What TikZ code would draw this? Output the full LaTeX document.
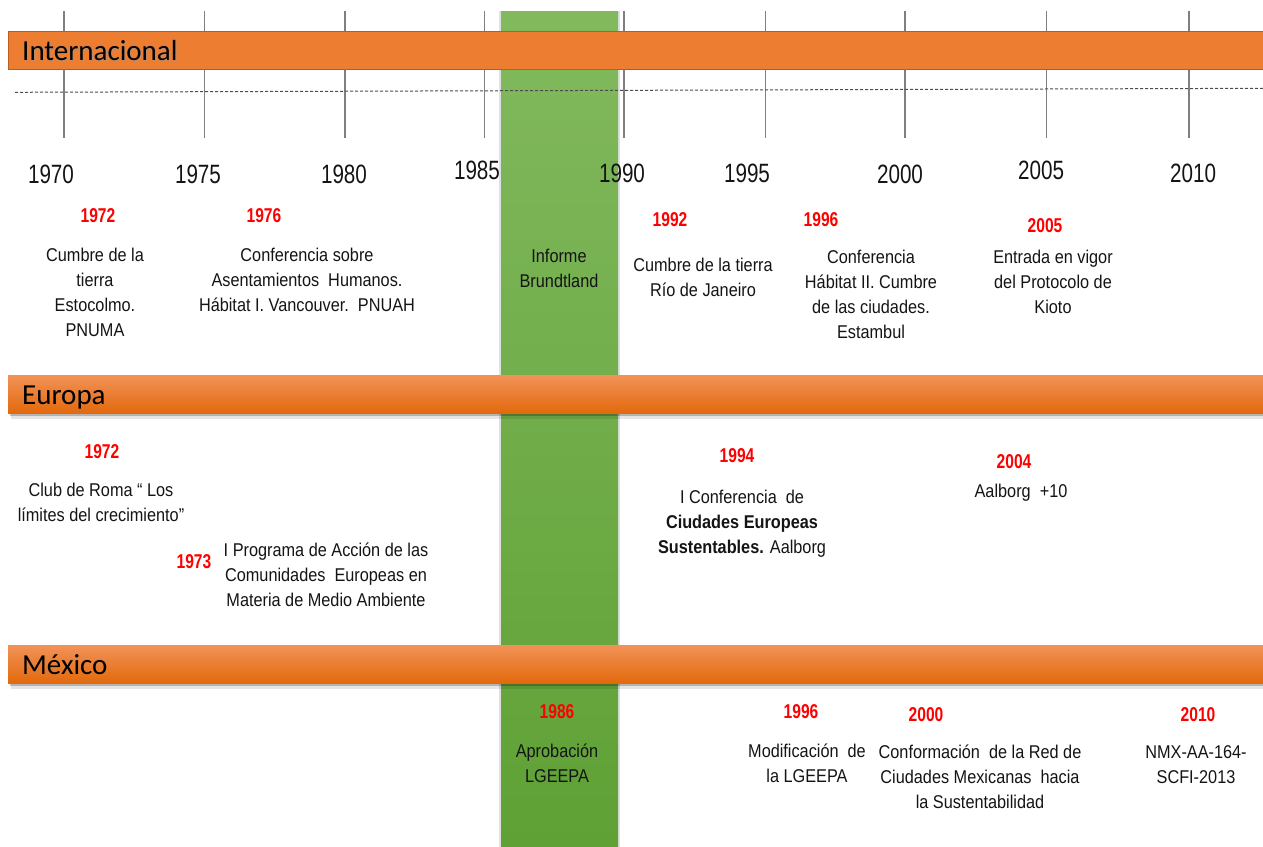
\documentclass[tikz,border=0pt]{standalone}
\usepackage{fontspec}
\setmainfont{Liberation Sans}
\newfontfamily\bodyf[FakeStretch=0.88]{Liberation Sans}
\newfontfamily\yrf[FakeStretch=0.78]{Liberation Sans}
\newfontfamily\bandf{Carlito}
\definecolor{orangeA}{HTML}{ED7D31}
\definecolor{orangeB}{HTML}{B85E22}
\definecolor{orTop}{HTML}{F29257}
\definecolor{orMid}{HTML}{EF7B2E}
\definecolor{orBot}{HTML}{E2690C}
\definecolor{grTop}{HTML}{82B95E}
\definecolor{grBot}{HTML}{5FA135}
\definecolor{tickc}{HTML}{7F7F7F}
\definecolor{txt}{HTML}{141414}
\definecolor{yred}{HTML}{FF0000}
\begin{document}
\begin{tikzpicture}[x=1pt,y=-1pt,
 tickline/.style={draw=tickc,line width=1.2pt},
 dashline/.style={draw=black!70,line width=1pt,dash pattern=on 3pt off 2pt},
 axisyear/.style={font=\yrf\fontsize{26.5}{30}\selectfont, text=txt, anchor=base, inner sep=0pt},
 redyear/.style={font=\yrf\bfseries\fontsize{20}{22}\selectfont, text=yred, anchor=base, inner sep=0pt},
 event/.style={font=\bodyf\fontsize{18.5}{25}\selectfont, text=txt, align=center, anchor=base, inner sep=0pt},
 bandlabel/.style={font=\bandf\fontsize{29}{32}\selectfont, text=black, anchor=base west, inner sep=0pt},
 flatband/.style={inner sep=0pt, minimum width=1262pt, minimum height=38pt, anchor=north west, fill=orangeA, draw=orangeB, line width=0.8pt},
 shadeband/.style={inner sep=0pt, minimum width=1262pt, minimum height=38pt, anchor=north west, top color=orTop, middle color=orMid, bottom color=orBot},
 bandshadow/.style={inner sep=0pt, minimum width=1262pt, minimum height=38pt, anchor=north west, fill=black},
]
\useasboundingbox (0,0) rectangle (1263,846);
% ticks
\foreach \x [count=\i] in {64,204.5,345,484.5,624,765.5,905,1046.5,1189}{
  \coordinate (ta\i) at (\x,11);
  \coordinate (tb\i) at (\x,137.5);
  \draw[tickline] (ta\i) -- (tb\i);
}
% green column
\node[inner sep=0pt, minimum width=121pt, minimum height=836pt, anchor=north west, fill=black, opacity=0.12] (brsh) at (499,11) {};
\node[inner sep=0pt, minimum width=117pt, minimum height=836pt, anchor=north west, top color=grTop, bottom color=grBot] (brund) at (501,11) {};
% bands
\node[flatband] (intl) at (8,31) {};
\node[bandshadow, opacity=0.22] (eush1) at (10,378) {};
\node[bandshadow, opacity=0.10] (eush2) at (11,381) {};
\node[shadeband] (eur) at (8,375) {};
\node[bandshadow, opacity=0.22] (mxsh1) at (10,648) {};
\node[bandshadow, opacity=0.10] (mxsh2) at (11,651) {};
\node[shadeband] (mex) at (8,645) {};
\node[bandlabel, text=black!40, opacity=0.6] (intlS) at (23.2,61.2) {Internacional};
\node[bandlabel] (intlL) at (22,60) {Internacional};
\node[bandlabel] (eurL) at (22,404) {Europa};
\node[bandlabel] (mexL) at (22,674) {México};
% dashed line
\coordinate (d1) at (15,92.3);
\coordinate (d2) at (1263,88.3);
\draw[dashline] (d1) -- (d2);
% axis years
\node[axisyear] (y1970) at (51,183) {1970};
\node[axisyear] (y1975) at (198,183) {1975};
\node[axisyear] (y1980) at (344,183) {1980};
\node[axisyear] (y1985) at (477,179) {1985};
\node[axisyear] (y1990) at (622,182) {1990};
\node[axisyear] (y1995) at (747,182) {1995};
\node[axisyear] (y2000) at (900,183) {2000};
\node[axisyear] (y2005) at (1041,179) {2005};
\node[axisyear] (y2010) at (1193,182) {2010};
% Internacional events (anchor = baseline of last line)
\node[redyear] (i72y) at (98,222) {1972};
\node[event] (i72) at (95,336) {Cumbre de la\\tierra\\Estocolmo.\\PNUMA};
\node[redyear] (i76y) at (264,222) {1976};
\node[event] (i76) at (307,311) {Conferencia sobre\\Asentamientos\ \ Humanos.\\Hábitat I. Vancouver.\ \ PNUAH};
\node[event] (ibr) at (559,287) {Informe\\Brundtland};
\node[redyear] (i92y) at (670,226) {1992};
\node[event] (i92) at (703,296) {Cumbre de la tierra\\Río de Janeiro};
\node[redyear] (i96y) at (821,226) {1996};
\node[event] (i96) at (871,338) {Conferencia\\Hábitat II. Cumbre\\de las ciudades.\\Estambul};
\node[redyear] (i05y) at (1045,232) {2005};
\node[event] (i05) at (1053,313) {Entrada en vigor\\del Protocolo de\\Kioto};
% Europa events
\node[redyear] (e72y) at (102,458) {1972};
\node[event] (e72) at (101,521) {Club de Roma “ Los\\límites del crecimiento”};
\node[redyear] (e73y) at (194,568) {1973};
\node[event] (e73) at (326,606) {I Programa de Acción de las\\Comunidades\ \ Europeas en\\Materia de Medio Ambiente};
\node[redyear] (e94y) at (737,462) {1994};
\node[event] (e94) at (742,553) {I Conferencia\ \ de\\\textbf{Ciudades Europeas}\\\textbf{Sustentables.} Aalborg};
\node[redyear] (e04y) at (1014,468) {2004};
\node[event] (e04) at (1021,497) {Aalborg\ \ +10};
% Mexico events
\node[redyear] (m86y) at (557,718) {1986};
\node[event] (m86) at (557,782) {Aprobación\\LGEEPA};
\node[redyear] (m96y) at (801,718) {1996};
\node[event] (m96) at (807,782) {Modificación\ \ de\\la LGEEPA};
\node[redyear] (m00y) at (926,721) {2000};
\node[event] (m00) at (980,808) {Conformación\ \ de la Red de\\Ciudades Mexicanas\ \ hacia\\la Sustentabilidad};
\node[redyear] (m10y) at (1198,721) {2010};
\node[event] (m10) at (1196,783) {NMX-AA-164-\\SCFI-2013};
\end{tikzpicture}
\end{document}
